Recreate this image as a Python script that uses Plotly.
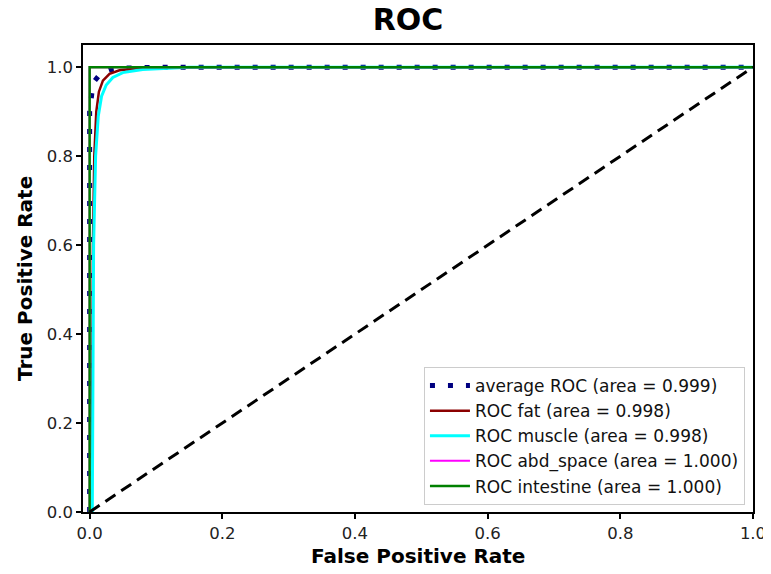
import plotly.graph_objects as go

# ---- data ----
avg_fpr = [0.0, 0.0, 0.0, 0.004, 0.008, 0.017, 0.03, 0.05, 0.1, 0.2, 1.0]
avg_tpr = [0.0, 0.78, 0.9, 0.95, 0.97, 0.987, 0.994, 0.998, 1.0, 1.0, 1.0]

fat_fpr = [0.0, 0.003, 0.005, 0.007, 0.01, 0.014, 0.02, 0.03, 0.045, 0.07, 0.12, 1.0]
fat_tpr = [0.0, 0.0, 0.6, 0.8, 0.9, 0.945, 0.97, 0.985, 0.993, 0.997, 1.0, 1.0]

mus_fpr = [0.0, 0.004, 0.006, 0.009, 0.013, 0.018, 0.025, 0.035, 0.05, 0.08, 0.15, 1.0]
mus_tpr = [0.0, 0.0, 0.6, 0.8, 0.89, 0.935, 0.96, 0.977, 0.988, 0.995, 1.0, 1.0]

abd_fpr = [0.0, 0.0, 1.0]
abd_tpr = [0.0, 1.0, 1.0]

int_fpr = [0.0, 0.0, 1.0]
int_tpr = [0.0, 1.0, 1.0]

diag = [0.0, 1.0]

names = [
    "average ROC (area = 0.999)",
    "ROC fat (area = 0.998)",
    "ROC muscle (area = 0.998)",
    "ROC abd_space (area = 1.000)",
    "ROC intestine (area = 1.000)",
]
ticks = [0.0, 0.2, 0.4, 0.6, 0.8, 1.0]

FONT = "DejaVu Sans"

# the page body has an 8px margin, so the figure is drawn 8px smaller
W, H = 763, 566

fig = go.Figure()
fig.add_trace(go.Scatter(x=avg_fpr, y=avg_tpr, mode="lines", name=names[0],
                         line=dict(color="navy", width=5, dash="5px,13px")))
fig.add_trace(go.Scatter(x=fat_fpr, y=fat_tpr, mode="lines", name=names[1],
                         line=dict(color="darkred", width=2.5)))
fig.add_trace(go.Scatter(x=mus_fpr, y=mus_tpr, mode="lines", name=names[2],
                         line=dict(color="aqua", width=3)))
fig.add_trace(go.Scatter(x=abd_fpr, y=abd_tpr, mode="lines", name=names[3],
                         line=dict(color="fuchsia", width=2)))
fig.add_trace(go.Scatter(x=int_fpr, y=int_tpr, mode="lines", name=names[4],
                         line=dict(color="green", width=2.5)))
fig.add_trace(go.Scatter(x=diag, y=diag, mode="lines", showlegend=False,
                         line=dict(color="black", width=3, dash="12px,7px")))

axis_common = dict(
    showgrid=False, zeroline=False, showline=True, linecolor="black", linewidth=1.5,
    mirror=True, ticks="outside", ticklen=5, tickwidth=1.5, tickcolor="black",
    tickvals=ticks, tickformat=".1f", automargin=False,
    tickfont=dict(family=FONT, size=16.5, color="#222222"),
)

fig.update_layout(
    width=W, height=H,
    paper_bgcolor="white", plot_bgcolor="white",
    margin=dict(l=75, r=18, t=37, b=62),
    title=dict(text="<b>ROC</b>", x=400 / W, xanchor="center", y=1 - 1 / H, yanchor="top",
               font=dict(family=FONT, size=30, color="black")),
    xaxis=dict(range=[-0.01, 1.0], **axis_common),
    yaxis=dict(range=[0.0, 1.05], **axis_common),
    legend=dict(x=0.988, y=0.015, xanchor="right", yanchor="bottom",
                bgcolor="rgba(255,255,255,0.8)", bordercolor="#cccccc", borderwidth=1,
                font=dict(family=FONT, size=17, color="#111111"),
                itemwidth=40, tracegroupgap=0),
    showlegend=True,
    annotations=[
        dict(text="<b>False Positive Rate</b>", xref="paper", yref="paper",
             x=0.5, y=-(556 - 512) / 467, xanchor="center", yanchor="middle",
             showarrow=False, font=dict(family=FONT, size=20, color="black")),
        dict(text="<b>True Positive Rate</b>", xref="paper", yref="paper",
             x=-(83 - 25) / 670, y=(512 - 279) / 467, xanchor="center", yanchor="middle",
             textangle=-90, showarrow=False,
             font=dict(family=FONT, size=20, color="black")),
    ],
)

fig.write_html("out.html")
